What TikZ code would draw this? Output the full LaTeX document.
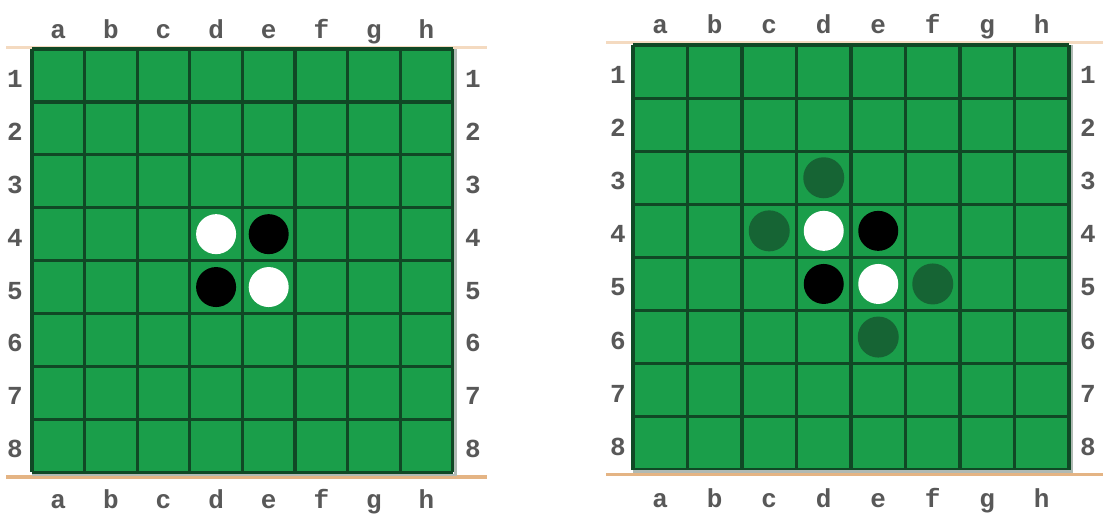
\documentclass[tikz,border=0pt]{standalone}
\usepackage{fontspec}
\newfontfamily\labfont{Liberation Mono}
\definecolor{felt}{RGB}{26,158,74}
\definecolor{gridc}{RGB}{16,72,37}
\definecolor{ghost}{RGB}{22,100,52}
\definecolor{rimtop}{RGB}{244,218,192}
\definecolor{rimbot}{RGB}{228,180,132}
\definecolor{edgec}{RGB}{176,186,180}
\definecolor{labc}{RGB}{88,88,88}
\tikzset{
  gridline/.style={draw=gridc,line width=3.2pt},
  edgeline/.style={draw=edgec,line width=2.5pt},
  rimT/.style={draw=rimtop,line width=2.5pt},
  rimB/.style={draw=rimbot,line width=3.5pt},
  lab/.style={text=labc,font=\labfont\bfseries\fontsize{26}{26}\selectfont,inner sep=0pt,anchor=base},
  disc/.style={circle,minimum size=40pt,inner sep=0pt,draw=none},
  whitedisc/.style={disc,fill=white},
  blackdisc/.style={disc,fill=black},
  ghostdisc/.style={disc,fill=ghost,minimum size=41pt},
}
\begin{document}
\begin{tikzpicture}[x=1pt,y=-1pt]
\useasboundingbox (0,0) rectangle (1109,522);
% ---------- left board ----------
\begin{scope}
\def\xo{32}\def\yo{49}\def\cw{52.6}\def\ch{52.9}
\draw[rimT] (6,47.5) coordinate (A-rt1) -- (487,47.5) coordinate (A-rt2);
\draw[rimB] (6,477) coordinate (A-rb1) -- (487,477) coordinate (A-rb2);
\fill[felt] (\xo,\yo) rectangle ++(8*\cw,8*\ch);
\foreach \i in {0,...,8}{
  \draw[gridline] (\xo+\i*\cw,\yo) -- ++(0,8*\ch);
  \draw[gridline] (\xo,\yo+\i*\ch) -- ++(8*\cw,0);
}
\draw[edgeline] (\xo+8*\cw+2.8,\yo) -- (\xo+8*\cw+2.8,\yo+8*\ch+2.8) -- (\xo,\yo+8*\ch+2.8);
\foreach \l [count=\c] in {a,b,c,d,e,f,g,h}{
  \node[lab] (A-top-\l) at (\xo+\c*\cw-\cw/2,38) {\l};
  \node[lab] (A-bot-\l) at (\xo+\c*\cw-\cw/2,508) {\l};
}
\foreach \r in {1,...,8}{
  \node[lab] (A-left-\r) at (15,\yo+\r*\ch-\ch/2+12) {\r};
  \node[lab] (A-right-\r) at (473,\yo+\r*\ch-\ch/2+12) {\r};
}
\node[whitedisc] (A-d4) at (\xo+3.5*\cw,\yo+3.5*\ch) {};
\node[blackdisc] (A-e4) at (\xo+4.5*\cw,\yo+3.5*\ch) {};
\node[blackdisc] (A-d5) at (\xo+3.5*\cw,\yo+4.5*\ch) {};
\node[whitedisc] (A-e5) at (\xo+4.5*\cw,\yo+4.5*\ch) {};
\end{scope}
% ---------- right board ----------
\begin{scope}
\def\xo{633}\def\yo{45}\def\cw{54.5}\def\ch{53.1}
\draw[rimT] (606,42.5) coordinate (B-rt1) -- (1103,42.5) coordinate (B-rt2);
\draw[rimB] (606,474.5) coordinate (B-rb1) -- (1103,474.5) coordinate (B-rb2);
\fill[felt] (\xo,\yo) rectangle ++(8*\cw,8*\ch);
\foreach \i in {0,...,8}{
  \draw[gridline] (\xo+\i*\cw,\yo) -- ++(0,8*\ch);
  \draw[gridline] (\xo,\yo+\i*\ch) -- ++(8*\cw,0);
}
\draw[edgeline] (\xo+8*\cw+2.8,\yo) -- (\xo+8*\cw+2.8,\yo+8*\ch+1.5) -- (\xo,\yo+8*\ch+1.5);
\foreach \l [count=\c] in {a,b,c,d,e,f,g,h}{
  \node[lab] (B-top-\l) at (\xo+\c*\cw-\cw/2,33) {\l};
  \node[lab] (B-bot-\l) at (\xo+\c*\cw-\cw/2,507) {\l};
}
\foreach \r in {1,...,8}{
  \node[lab] (B-left-\r) at (618,\yo+\r*\ch-\ch/2+12) {\r};
  \node[lab] (B-right-\r) at (1088,\yo+\r*\ch-\ch/2+12) {\r};
}
\node[ghostdisc] (B-d3) at (\xo+3.5*\cw,\yo+2.5*\ch) {};
\node[ghostdisc] (B-c4) at (\xo+2.5*\cw,\yo+3.5*\ch) {};
\node[ghostdisc] (B-f5) at (\xo+5.5*\cw,\yo+4.5*\ch) {};
\node[ghostdisc] (B-e6) at (\xo+4.5*\cw,\yo+5.5*\ch) {};
\node[whitedisc] (B-d4) at (\xo+3.5*\cw,\yo+3.5*\ch) {};
\node[blackdisc] (B-e4) at (\xo+4.5*\cw,\yo+3.5*\ch) {};
\node[blackdisc] (B-d5) at (\xo+3.5*\cw,\yo+4.5*\ch) {};
\node[whitedisc] (B-e5) at (\xo+4.5*\cw,\yo+4.5*\ch) {};
\end{scope}
\end{tikzpicture}
\end{document}
